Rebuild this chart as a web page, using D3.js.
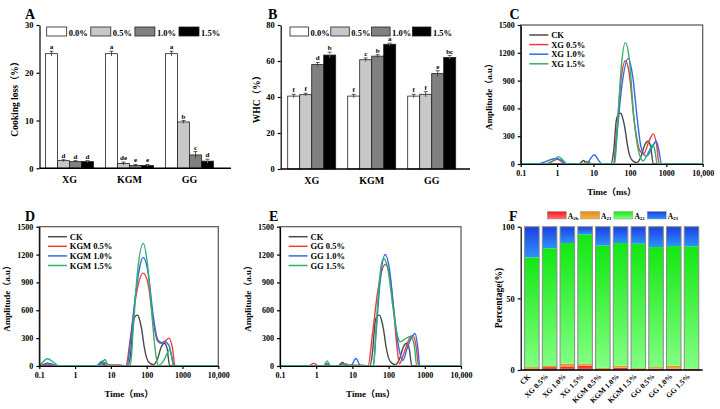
<!DOCTYPE html>
<html><head><meta charset="utf-8">
<script src="https://cdn.jsdelivr.net/npm/d3@7"></script>
<style>
body{margin:0;background:#fff}
svg{display:block}
text{font-family:"Liberation Serif","Times New Roman","Noto Sans CJK SC",serif;font-weight:bold;fill:#000}
</style>
</head><body>
<svg id="c" width="720" height="409"></svg>
<script>
// ---------- DATA ----------
const groups = ["XG","KGM","GG"];
const levels = ["0.0%","0.5%","1.0%","1.5%"];
const cookingLoss    = [[24.0,1.6,1.4,1.4],[24.0,1.0,0.6,0.6],[24.0,9.7,2.8,1.5]];
const cookingLossErr = [[0.5,0.2,0.2,0.2],[0.5,0.3,0.2,0.2],[0.5,0.3,0.7,0.4]];
const cookingLossSig = [["a","d","d","d"],["a","de","e","e"],["a","b","c","d"]];
const cookingTicks = [0,10,20,30];
const whc    = [[40.5,41.3,58.0,63.3],[40.5,60.7,62.7,69.3],[40.5,41.5,53.0,62.0]];
const whcErr = [[1.0,0.8,1.2,1.6],[1.0,1.0,0.8,0.6],[1.0,1.5,1.6,1.0]];
const whcSig = [["f","f","d","b"],["f","c","b","a"],["f","f","e","bc"]];
const whcTicks = [0,20,40,60,80];

const timeTicks = [0.1,1,10,100,1000,10000];
const timeTickLabels = ["0.1","1","10","100","1000","10,000"];
const ampTicks = [0,300,600,900,1200,1500];

// T2 curves: [time (ms), amplitude]
const ckCurve = [[0.1,0],[4,0],[5.3,38],[7,0],[30,0],[36,150],[42,460],[48,535],[56,548],[64,490],[72,400],[85,210],[100,85],[125,28],[155,15],[200,75],[255,205],[315,245],[370,190],[440,0],[10000,0]];
const xg05 = [[0.1,0],[0.45,0],[0.7,25],[1.05,52],[1.4,20],[1.75,0],[5,0],[7,28],[9,0],[35,0],[44,380],[56,880],[75,1115],[95,990],[130,480],[185,150],[240,110],[330,240],[440,325],[540,210],[640,0],[10000,0]];
const xg10 = [[0.1,0],[0.3,0],[0.5,28],[0.9,60],[1.3,42],[1.7,0],[6.5,0],[8.2,55],[10.5,100],[13.5,45],[17,0],[36,0],[45,360],[60,840],[90,1140],[120,940],[160,480],[200,190],[270,85],[320,100],[420,190],[530,245],[630,140],[740,0],[10000,0]];
const xg15 = [[0.1,0],[0.55,0],[0.8,40],[1.1,80],[1.5,35],[1.9,0],[5.5,0],[7,20],[8.5,0],[38,0],[46,440],[58,1050],[75,1310],[95,1150],[130,480],[170,150],[230,35],[300,100],[430,210],[500,120],[560,0],[10000,0]];

const kgm05 = [[0.1,0],[0.12,8],[0.17,20],[0.25,10],[0.33,0],[4.5,0],[6.5,35],[8.5,15],[18,10],[26,0],[35,300],[50,750],[80,1000],[110,880],[150,500],[200,270],[260,245],[330,270],[420,300],[520,200],[620,0],[10000,0]];
const kgm10 = [[0.1,0],[0.12,12],[0.17,30],[0.25,15],[0.33,0],[4,0],[5.8,55],[7.5,0],[28,0],[36,300],[50,800],[80,1170],[110,1000],[150,560],[200,290],[260,250],[320,262],[420,220],[500,100],[580,0],[10000,0]];
const kgm15 = [[0.1,0],[0.12,35],[0.17,78],[0.25,40],[0.35,0],[5,0],[6.8,70],[8.5,0],[35,0],[42,400],[55,1000],[80,1320],[105,1100],[140,550],[180,120],[215,5],[300,60],[440,175],[510,80],[560,0],[10000,0]];

const gg05 = [[0.1,0],[0.6,0],[0.85,28],[1.2,0],[1.7,0],[2,12],[2.4,0],[4.2,0],[5.5,25],[8,10],[20,8],[27,0],[36,350],[50,800],[82,1095],[110,950],[135,650],[165,260],[200,25],[260,130],[370,290],[480,330],[580,200],[680,0],[10000,0]];
const gg10 = [[0.1,0],[1.6,0],[2,28],[2.5,0],[4,0],[5,10],[6,0],[9,0],[12.5,80],[17,0],[38,0],[45,350],[58,900],[80,1200],[105,1050],[140,600],[190,200],[250,60],[330,200],[540,350],[640,200],[730,0],[10000,0]];
const gg15 = [[0.1,0],[1.6,0],[2,55],[2.5,0],[5,0],[6.8,22],[9,0],[38,0],[45,400],[55,900],[72,1160],[95,1050],[130,650],[170,350],[210,260],[280,290],[420,320],[520,200],[600,0],[10000,0]];

const samples = ["CK","XG 0.5%","XG 1.0%","XG 1.5%","KGM 0.5%","KGM 1.0%","KGM 1.5%","GG 0.5%","GG 1.0%","GG 1.5%"];
const a2b = [0.4,2.0,2.5,3.0,0.3,1.5,0.5,1.0,1.0,0.6];
const a21 = [1.6,0.8,1.9,1.4,1.3,1.5,0.8,1.0,2.0,0.4];
const a22 = [76.6,82.1,84.2,90.3,85.2,85.6,86.8,83.8,83.5,85.3];
const a23 = [21.4,15.1,11.4,5.3,13.2,11.4,11.9,14.2,13.5,13.7];
const pctTicks = [0,50,100];

// ---------- DRAW ----------
const svg = d3.select("#c");
const barFill = ["#ffffff","#c8c8c8","#808080","#000000"];

function styleAxis(g, fs){
  g.selectAll("path,line").attr("stroke","#000").attr("stroke-width",1.2);
  g.selectAll("text").attr("font-size",fs).attr("font-family",null).attr("font-weight","bold").attr("fill","#000");
}
function letter(t,x,y){ svg.append("text").attr("x",x).attr("y",y).attr("font-size",14).text(t); }

function barPanel(c){
  const y = d3.scaleLinear().domain([0,c.max]).range([c.bottom,c.top]);
  const x0 = d3.scaleBand().domain(groups).range([c.x0start,c.x0start+180]);
  const x1 = d3.scaleBand().domain(levels).range([6,54]);
  const g = svg.append("g");
  groups.forEach((grp,gi)=>{
    levels.forEach((lv,li)=>{
      const v=c.data[gi][li], e=c.err[gi][li];
      const bx=x0(grp)+x1(lv), cx=bx+x1.bandwidth()/2;
      g.append("rect").attr("x",bx).attr("y",y(v)).attr("width",x1.bandwidth()).attr("height",y(0)-y(v))
        .attr("fill",barFill[li]).attr("stroke","#222").attr("stroke-width",0.8);
      g.append("line").attr("x1",cx).attr("x2",cx).attr("y1",y(v-e)).attr("y2",y(v+e)).attr("stroke",li==3?"#888":"#333").attr("stroke-width",0.8);
      g.append("line").attr("x1",cx-2).attr("x2",cx+2).attr("y1",y(v+e)).attr("y2",y(v+e)).attr("stroke","#333").attr("stroke-width",0.8);
      g.append("text").attr("x",cx).attr("y",y(v+e)-2).attr("text-anchor","middle").attr("font-size",7).text(c.sig[gi][li]);
    });
    g.append("text").attr("x",x0(grp)+30).attr("y",c.bottom+15).attr("text-anchor","middle").attr("font-size",10).text(grp);
  });
  const ya = g.append("g").attr("transform",`translate(${c.axisX},0)`)
    .call(d3.axisLeft(y).tickValues(c.ticks).tickSize(3).tickSizeOuter(0));
  styleAxis(ya,8.5);
  g.append("line").attr("x1",c.axisX).attr("x2",c.xEnd).attr("y1",c.bottom).attr("y2",c.bottom).attr("stroke","#000").attr("stroke-width",1.4);
  levels.forEach((lv,i)=>{
    const lx=c.legX+i*c.legStep;
    g.append("rect").attr("x",lx).attr("y",27).attr("width",c.legW).attr("height",9).attr("fill",barFill[i]).attr("stroke","#222").attr("stroke-width",0.8);
    g.append("text").attr("x",lx+c.legW+2).attr("y",35.5).attr("font-size",8.5).text(lv);
  });
  g.append("text").attr("transform",`translate(${c.labX},${(c.top+c.bottom)/2}) rotate(-90)`).attr("text-anchor","middle").attr("font-size",9.5).text(c.ylabel);
}

barPanel({max:30,top:25,bottom:168.3,x0start:39.5,axisX:39.5,xEnd:231,data:cookingLoss,err:cookingLossErr,sig:cookingLossSig,ticks:cookingTicks,legX:46.7,legStep:44.1,legW:20,labX:18,ylabel:"Cooking loss（%）"});
barPanel({max:80,top:25,bottom:169,x0start:281.7,axisX:280.7,xEnd:470,data:whc,err:whcErr,sig:whcSig,ticks:whcTicks,legX:290,legStep:40.8,legW:18.5,labX:260,ylabel:"WHC（%）"});

const lineColors = ["#4a4a4a","#f23b3b","#2f6be6","#2db36b"];
function linePanel(c){
  const x = d3.scaleLog().domain([0.1,10000]).range([c.l,c.r]);
  const y = d3.scaleLinear().domain([0,1500]).range([c.b,c.t]);
  const g = svg.append("g");
  g.append("rect").attr("x",c.l).attr("y",c.t).attr("width",c.r-c.l).attr("height",c.b-c.t).attr("fill","none").attr("stroke","#555").attr("stroke-width",1.2);
  const line = d3.line().x(d=>x(d[0])).y(d=>y(d[1])).curve(d3.curveMonotoneX);
  c.series.forEach((s,i)=>{
    g.append("path").attr("d",line(s)).attr("fill","none").attr("stroke",lineColors[i]).attr("stroke-width",1.4);
  });
  const xa = g.append("g").attr("transform",`translate(0,${c.b})`)
    .call(d3.axisBottom(x).tickValues(timeTicks).tickFormat((d,i)=>timeTickLabels[i]).tickSize(3).tickSizeOuter(0));
  styleAxis(xa,8);
  const ya = g.append("g").attr("transform",`translate(${c.l},0)`)
    .call(d3.axisLeft(y).tickValues(ampTicks).tickFormat(d3.format("d")).tickSize(3).tickSizeOuter(0));
  styleAxis(ya,8);
  c.names.forEach((n,i)=>{
    const ly=c.t+10+i*9.6;
    g.append("line").attr("x1",c.l+8.6).attr("x2",c.l+27.6).attr("y1",ly).attr("y2",ly).attr("stroke",lineColors[i]).attr("stroke-width",1.5);
    g.append("text").attr("x",c.l+30.5).attr("y",ly+3).attr("font-size",8.5).text(n);
  });
  g.append("text").attr("x",(c.l+c.r)/2).attr("y",c.b+31).attr("text-anchor","middle").attr("font-size",9).text("Time（ms）");
  g.append("text").attr("transform",`translate(${c.l-29},${(c.t+c.b)/2}) rotate(-90)`).attr("text-anchor","middle").attr("font-size",9).text("Amplitude（a.u）");
}
linePanel({l:520.7,r:702.7,t:25,b:164,series:[ckCurve,xg05,xg10,xg15],names:["CK","XG 0.5%","XG 1.0%","XG 1.5%"]});
linePanel({l:39.3,r:218.3,t:226.7,b:366,series:[ckCurve,kgm05,kgm10,kgm15],names:["CK","KGM 0.5%","KGM 1.0%","KGM 1.5%"]});
linePanel({l:280,r:461,t:226.7,b:366,series:[ckCurve,gg05,gg10,gg15],names:["CK","GG 0.5%","GG 1.0%","GG 1.5%"]});

// Panel F
(function(){
  const defs = svg.append("defs");
  const grads = [["gR","#f01818","#ff7070"],["gO","#e58a12","#f7b24a"],["gG","#12e812","#82ff82"],["gB","#1c3ee0","#2c92ff"]];
  grads.forEach(([id,c1,c2])=>{
    const lg=defs.append("linearGradient").attr("id",id).attr("x1",0).attr("y1",0).attr("x2",0).attr("y2",1);
    lg.append("stop").attr("offset","0%").attr("stop-color",c1);
    lg.append("stop").attr("offset","100%").attr("stop-color",c2);
  });
  const keys=["a2b","a21","a22","a23"];
  const rows = samples.map((s,i)=>({s,a2b:a2b[i],a21:a21[i],a22:a22[i],a23:a23[i]}));
  const stack = d3.stack().keys(keys)(rows);
  const x = d3.scaleBand().domain(samples).range([520.7,702.7]).paddingInner(0.18).paddingOuter(0.22);
  const y = d3.scaleLinear().domain([0,100]).range([370,226.7]);
  const g = svg.append("g");
  stack.forEach((layer,k)=>{
    g.selectAll(null).data(layer).enter().append("rect")
      .attr("x",d=>x(d.data.s)).attr("width",x.bandwidth())
      .attr("y",d=>y(d[1])).attr("height",d=>y(d[0])-y(d[1]))
      .attr("fill",`url(#${grads[k][0]})`);
  });
  g.selectAll(null).data(samples).enter().append("rect")
    .attr("x",d=>x(d)).attr("width",x.bandwidth()).attr("y",y(100)).attr("height",y(0)-y(100))
    .attr("fill","none").attr("stroke","#8a8a8a").attr("stroke-width",1);
  const ya = g.append("g").attr("transform","translate(520.7,0)")
    .call(d3.axisLeft(y).tickValues(pctTicks).tickSize(3).tickSizeOuter(0));
  styleAxis(ya,8.5);
  g.append("line").attr("x1",520.7).attr("x2",702.7).attr("y1",370).attr("y2",370).attr("stroke","#000").attr("stroke-width",1.4);
  samples.forEach(s=>{
    g.append("text").attr("transform",`translate(${x(s)+x.bandwidth()/2-1},${377}) rotate(-45)`)
      .attr("text-anchor","end").attr("font-size",7.5).text(s);
  });
  g.append("text").attr("transform",`translate(502,298) rotate(-90)`).attr("text-anchor","middle").attr("font-size",9.5).text("Percentage(%)");
  const legSubs=["2b","21","22","23"];
  legSubs.forEach((sub,i)=>{
    const lx=547.3+i*33.3;
    g.append("rect").attr("x",lx).attr("y",211.5).attr("width",19).attr("height",7.5).attr("fill",`url(#${grads[i][0]})`).attr("stroke","#999").attr("stroke-width",0.5);
    const t=g.append("text").attr("x",lx+20.5).attr("y",218.5).attr("font-size",7.5);
    t.append("tspan").text("A");
    t.append("tspan").attr("font-size",5).attr("dy",1.5).text(sub);
  });
})();

letter("A",25,18.5);
letter("B",268,18.5);
letter("C",509.5,18.5);
letter("D",25,220.5);
letter("E",269,220.5);
letter("F",509,220.5);
</script>
</body></html>
